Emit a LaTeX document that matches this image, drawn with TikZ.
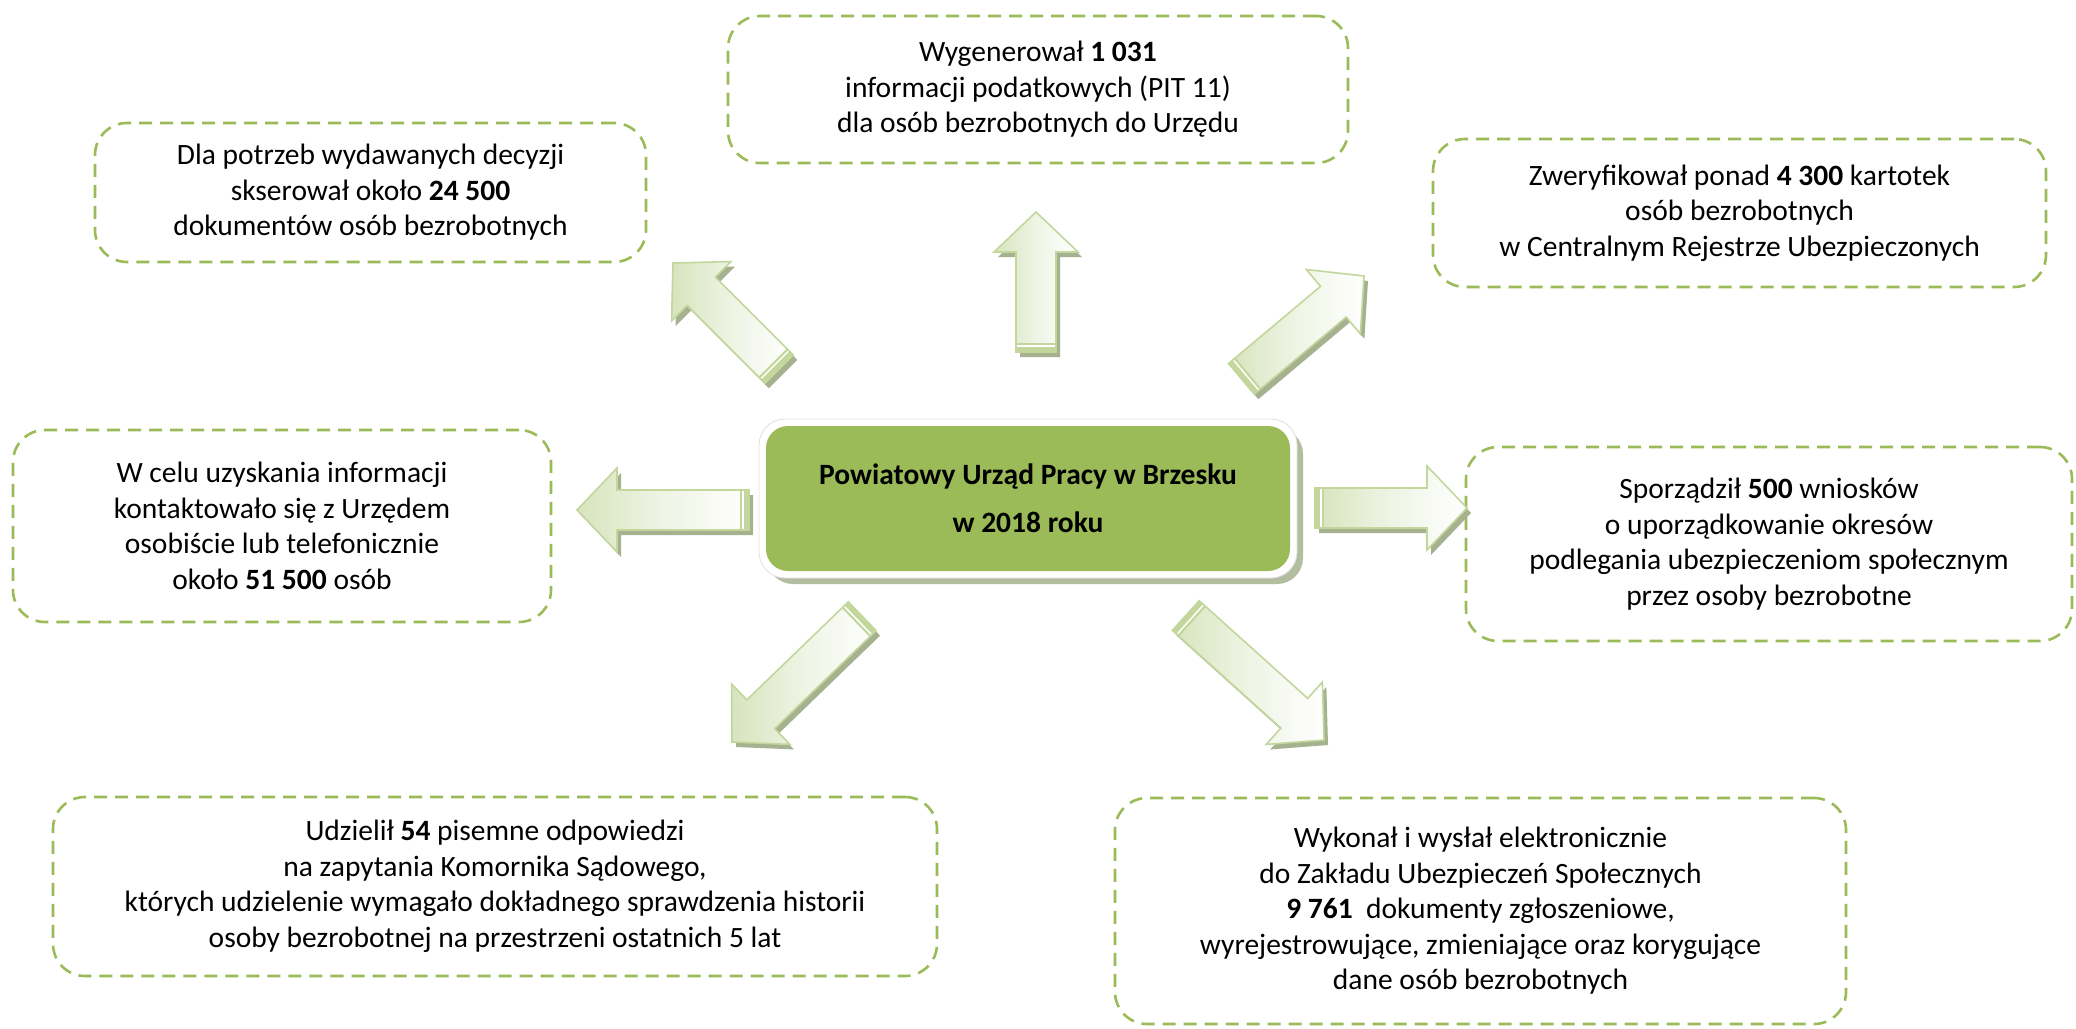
\documentclass[tikz,border=0pt]{standalone}
\usepackage{fontspec}
\setmainfont{Carlito}
\usetikzlibrary{calc}
\definecolor{dashgreen}{HTML}{9BBB59}
\definecolor{arrborder}{HTML}{C3D69B}
\definecolor{arrtail}{HTML}{D7E4BD}
\definecolor{arrshadow}{HTML}{A5B18F}
\definecolor{ctrshadow}{HTML}{B3BDA0}
\tikzset{
  infobox/.style={draw=dashgreen, line width=2.6pt, dash pattern=on 13pt off 8pt,
    rounded corners=32pt, align=center, inner sep=0pt,
    font=\fontsize{29.5}{35.5}\selectfont},
  arrowbody/.style={draw=arrborder, line width=1.6pt, line join=miter},
  arrowshade/.style={fill=arrshadow},
}
% #1 tip x, #2 tip y, #3 angle, #4 length
\newcommand\blockarrow[4]{%
  \begin{scope}[shift={(#1+4,#2+5)}, rotate=#3]
    \fill[arrowshade] (0,0) -- (-40,42) -- (-40,20) -- (-#4,20) -- (-#4,-20) -- (-40,-20) -- (-40,-42) -- cycle;
  \end{scope}
  \begin{scope}[shift={(#1,#2)}, rotate=#3]
    \shade[arrowbody, left color=arrtail, right color=white, middle color=white!60!arrtail]
      (0,0) -- (-40,42) -- (-40,20) -- (-#4,20) -- (-#4,-20) -- (-40,-20) -- (-40,-42) -- cycle;
    \fill[arrborder] (-#4,-20) rectangle (-#4+9,20);
    \draw[white, line width=1.5pt] (-#4+6,-19) -- (-#4+6,19);
  \end{scope}}
\begin{document}
\begin{tikzpicture}[x=1pt,y=-1pt]
\useasboundingbox (0,0) rectangle (2076,1028);
\fill[white] (0,0) rectangle (2076,1028);

% boxes
\node[infobox, minimum width=620pt, minimum height=147pt] (top) at (1038,89.5)
  {Wygenerował \textbf{1 031}\\ informacji podatkowych (PIT 11)\\ dla osób bezrobotnych do Urzędu};
\node[infobox, minimum width=551pt, minimum height=139pt] (tl) at (370.5,192.5)
  {Dla potrzeb wydawanych decyzji\\ skserował około \textbf{24 500}\\ dokumentów osób bezrobotnych};
\node[infobox, minimum width=613pt, minimum height=148pt] (tr) at (1739.5,213)
  {Zweryfikował ponad \textbf{4 300} kartotek\\ osób bezrobotnych\\ w Centralnym Rejestrze Ubezpieczonych};
\node[infobox, minimum width=538pt, minimum height=192pt] (lf) at (282,526)
  {W celu uzyskania informacji\\ kontaktowało się z Urzędem\\ osobiście lub telefonicznie\\ około \textbf{51 500} osób};
\node[infobox, minimum width=606pt, minimum height=194pt] (rt) at (1769,544)
  {Sporządził \textbf{500} wniosków\\ o uporządkowanie okresów\\ podlegania ubezpieczeniom społecznym\\ przez osoby bezrobotne};
\node[infobox, minimum width=884pt, minimum height=179pt] (bl) at (495,886.5)
  {Udzielił \textbf{54} pisemne odpowiedzi\\ na zapytania Komornika Sądowego,\\ których udzielenie wymagało dokładnego sprawdzenia historii\\ osoby bezrobotnej na przestrzeni ostatnich 5 lat};
\node[infobox, minimum width=731pt, minimum height=226pt] (br) at (1480.5,911)
  {Wykonał i wysłał elektronicznie\\ do Zakładu Ubezpieczeń Społecznych\\ \textbf{9 761}\ \ dokumenty zgłoszeniowe,\\ wyrejestrowujące, zmieniające oraz korygujące\\ dane osób bezrobotnych};

% arrows
\blockarrow{1036}{212}{90}{140}
\blockarrow{673}{263}{135}{150}
\blockarrow{1364}{276}{40}{160}
\blockarrow{577}{510}{180}{172}
\blockarrow{1467}{508}{0}{152}
\blockarrow{732}{742}{224}{181}
\blockarrow{1324}{740}{-42}{186}

% centre
\fill[ctrshadow, rounded corners=26pt] (767,428) rectangle (1303,584);
\fill[white, rounded corners=26pt] (759,419) rectangle (1297,578);
\draw[black!12, line width=0.8pt, rounded corners=26pt] (759,419) rectangle (1297,578);
\node[fill=dashgreen, rounded corners=22pt, minimum width=524pt, minimum height=145pt,
  align=center, inner sep=0pt, font=\fontsize{29.5}{48}\selectfont\bfseries] (ctr) at (1028,498.5)
  {Powiatowy Urząd Pracy w Brzesku\\ w 2018 roku};
\end{tikzpicture}
\end{document}
